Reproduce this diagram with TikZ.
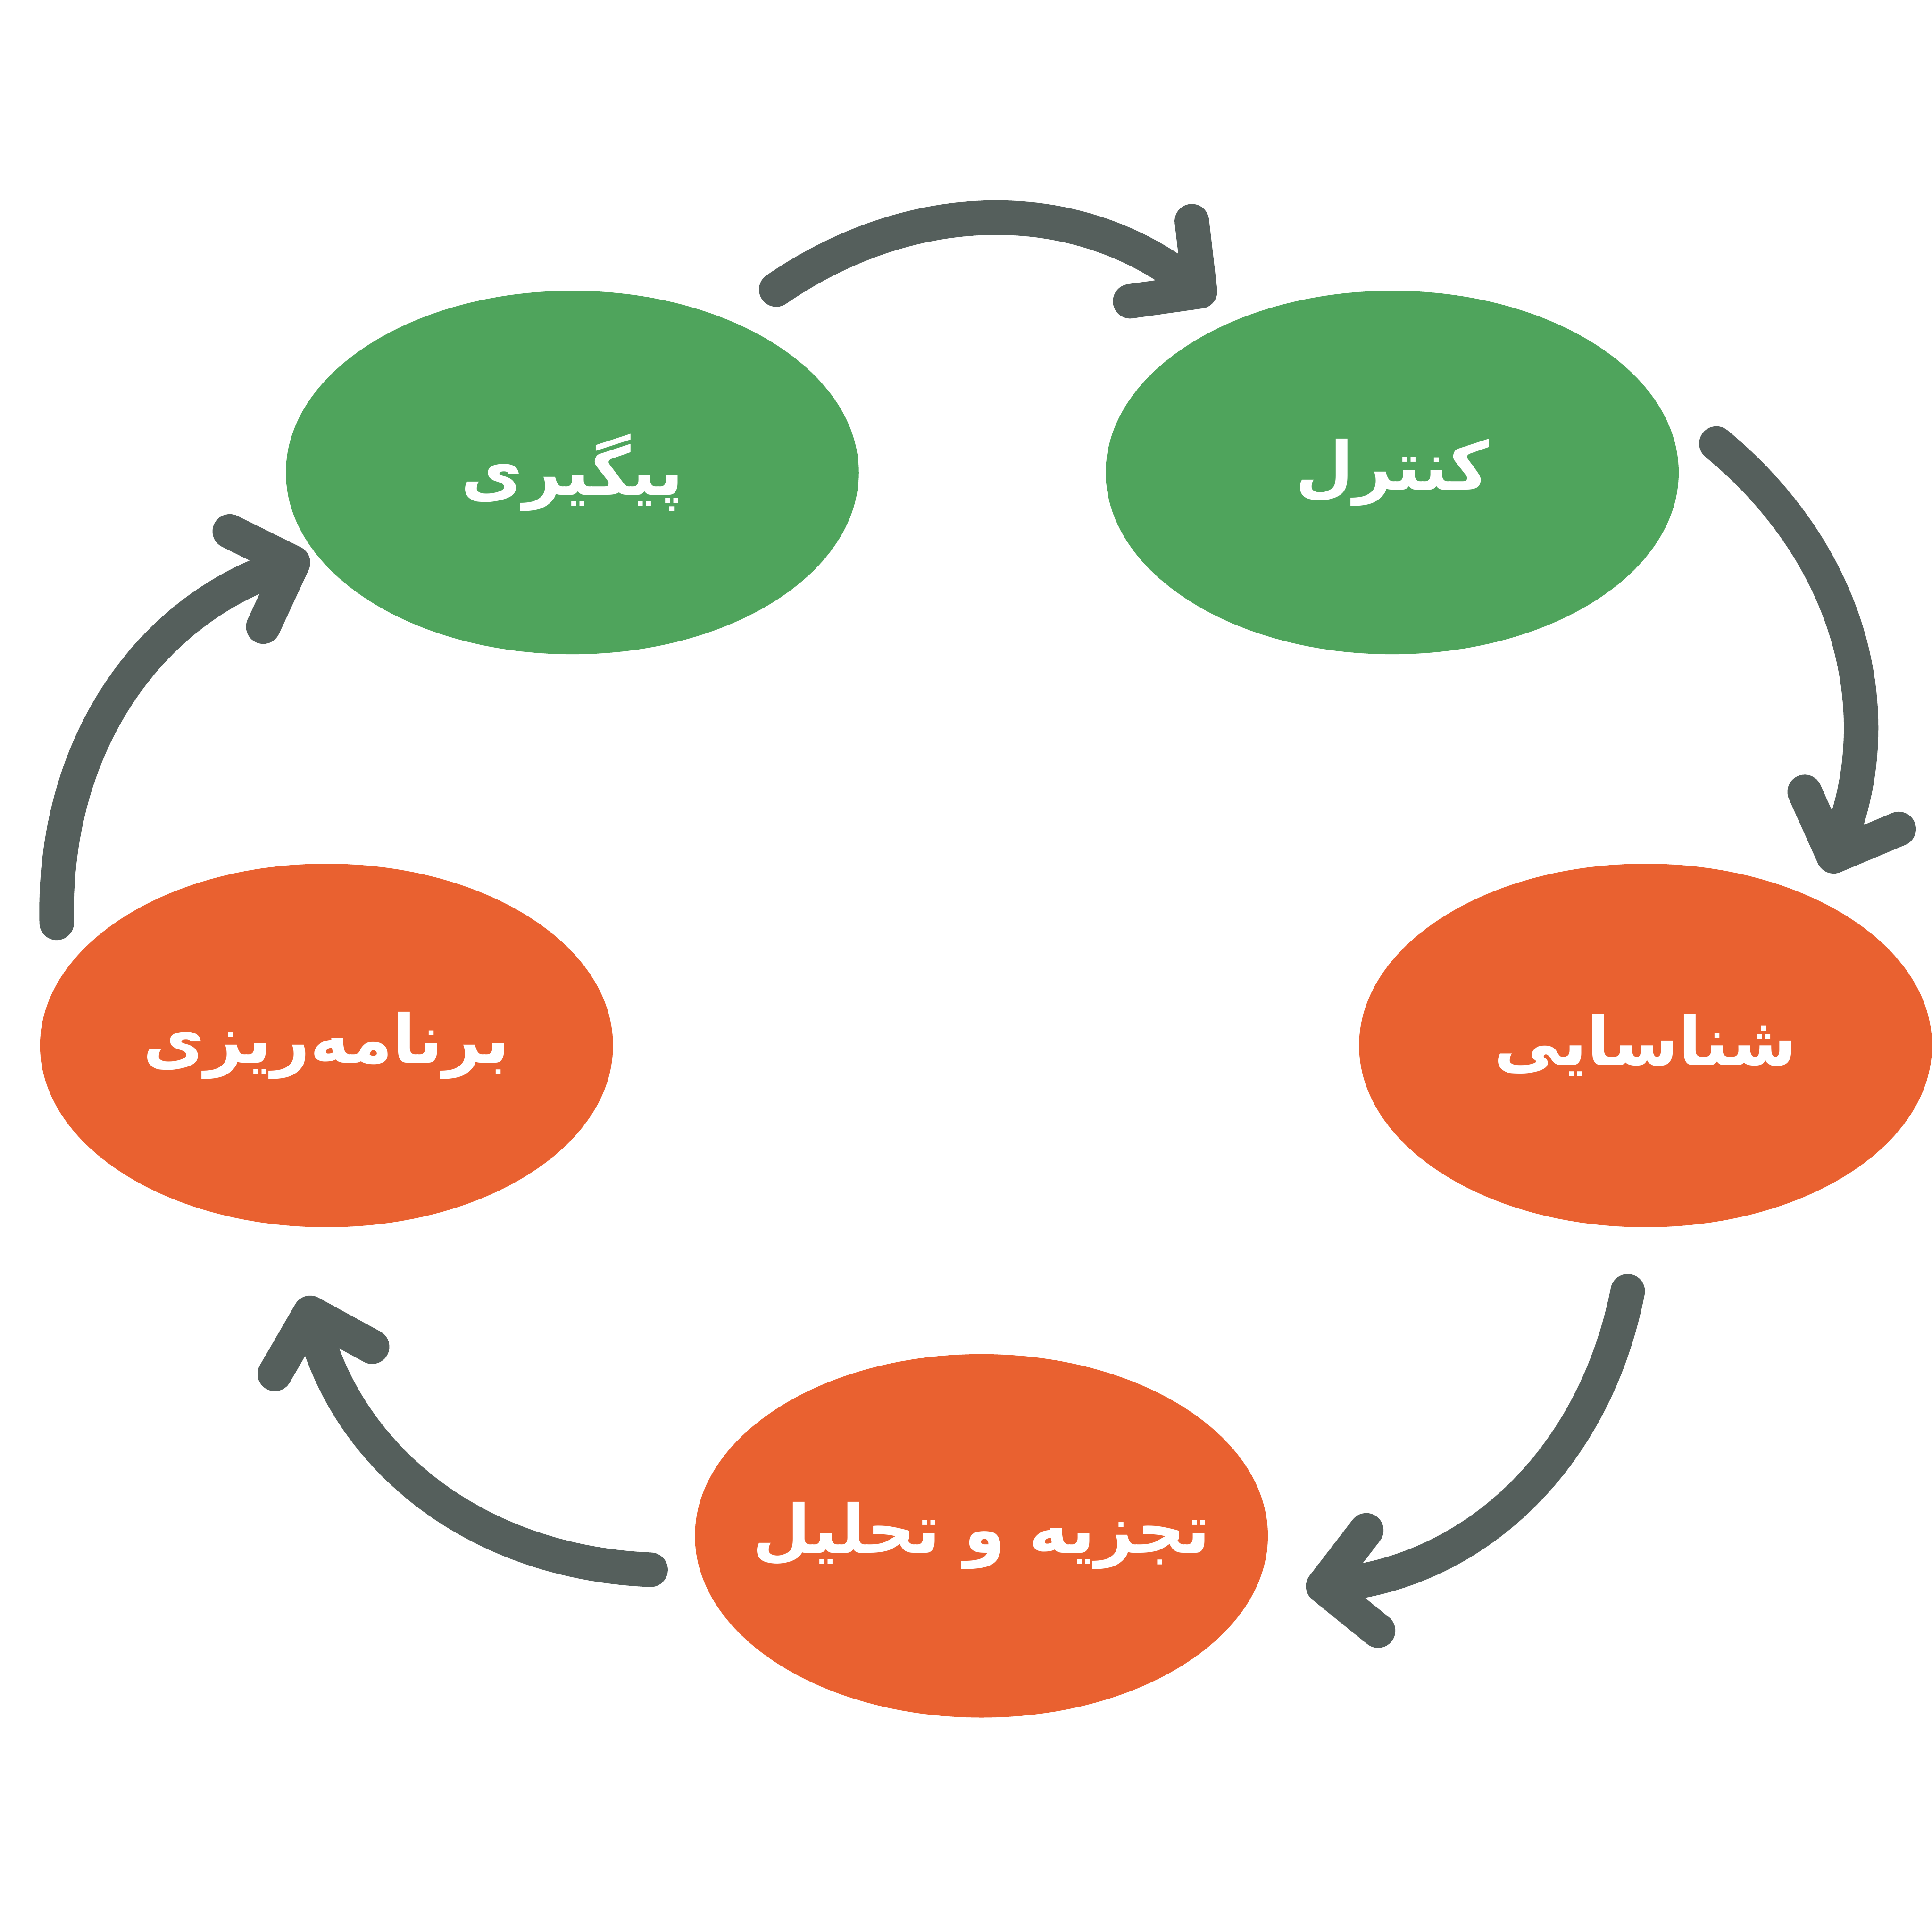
\documentclass[tikz,border=0pt]{standalone}
\usepackage{fontspec}
\usepackage{tikz}
\usetikzlibrary{positioning, arrows.meta, shapes.geometric}
\TeXXeTstate=1
\newfontfamily\persianfont[Script=Arabic]{DejaVu Sans}
\definecolor{phasegreen}{RGB}{79,164,92}
\definecolor{phaseorange}{RGB}{233,97,48}
\definecolor{cyclegray}{RGB}{85,95,92}

\begin{document}
\begin{tikzpicture}[
    y=-1cm,
    phase/.style={ellipse, minimum width=4.65cm, minimum height=2.95cm, inner sep=0pt,
        label={[phasetext]center:#1}},
    phasetext/.style={text=white, font=\persianfont\bfseries\fontsize{15.5}{19}\selectfont},
    greenphase/.style={phase={#1}, fill=phasegreen},
    orangephase/.style={phase={#1}, fill=phaseorange},
    cyclearrow/.style={draw=cyclegray, line width=0.28cm, line cap=round, bend left=36,
        -{Straight Barb[round, length=4mm, width=8.2mm]}}
]
\useasboundingbox (0,0) rectangle (15.68,15.68);

% phases
\node[greenphase={\beginR پیگیری\endR}] (follow) at (4.645,3.835) {};
\node[greenphase={\beginR کنترل\endR}, right=1.99cm of follow] (control) {};
\node[orangephase={\beginR شناسایی\endR}] (identify) at (13.355,8.485) {};
\node[orangephase={\beginR تجزیه و تحلیل\endR}] (analyze) at (7.965,12.465) {};
\node[orangephase={\beginR برنامه‌ریزی\endR}] (plan) at (2.65,8.485) {};

% arrow ends
\coordinate (a1s) at (6.30,2.35);  \coordinate (a1e) at (9.85,2.45);
\coordinate (a2s) at (13.93,3.60); \coordinate (a2e) at (14.83,7.08);
\coordinate (a3s) at (13.21,10.48); \coordinate (a3e) at (10.60,12.89);
\coordinate (a4s) at (5.28,12.74); \coordinate (a4e) at (2.48,10.52);
\coordinate (a5s) at (0.46,7.49);  \coordinate (a5e) at (2.51,4.52);

\draw[cyclearrow] (a1s) to (a1e);
\draw[cyclearrow] (a2s) to (a2e);
\draw[cyclearrow] (a3s) to (a3e);
\draw[cyclearrow] (a4s) to (a4e);
\draw[cyclearrow] (a5s) to (a5e);
\end{tikzpicture}
\end{document}
